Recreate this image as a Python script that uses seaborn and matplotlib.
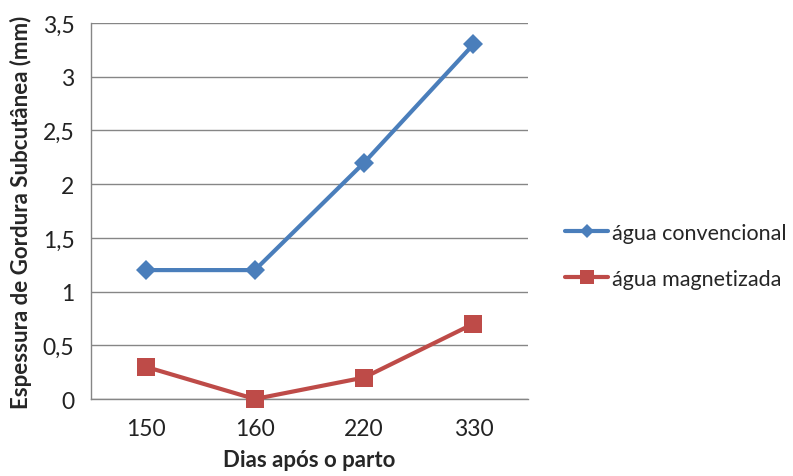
import matplotlib
matplotlib.use("Agg")
import matplotlib.pyplot as plt
import seaborn as sns
import pandas as pd
from matplotlib.lines import Line2D

dias = ["150", "160", "220", "330"]
convencional = [1.2, 1.2, 2.2, 3.3]
magnetizada = [0.3, 0.0, 0.2, 0.7]
series_names = ["água convencional", "água magnetizada"]
y_ticks = [0, 0.5, 1, 1.5, 2, 2.5, 3, 3.5]
y_tick_labels = ["0", "0,5", "1", "1,5", "2", "2,5", "3", "3,5"]

df = pd.DataFrame({
    "dia": dias * 2,
    "valor": convencional + magnetizada,
    "serie": [series_names[0]] * len(dias) + [series_names[1]] * len(dias),
})

sns.set_style("white")
plt.rcParams["font.family"] = ["Lato", "DejaVu Sans"]

fig = plt.figure(figsize=(7.93, 4.77), dpi=100)
ax = fig.add_axes([0.1148, 0.1614, 0.551, 0.7883])

palette = {series_names[0]: "#4A7EBB", series_names[1]: "#BE4B48"}
markers = {series_names[0]: "D", series_names[1]: "s"}
sizes = {series_names[0]: 10, series_names[1]: 13}

sns.lineplot(data=df, x="dia", y="valor", hue="serie", style="serie",
             palette=palette, markers=markers, dashes=False,
             linewidth=3, markersize=10, markeredgewidth=0,
             ax=ax, legend=False)
for line, name in zip(ax.get_lines(), series_names):
    line.set_markersize(sizes[name])
    line.set_clip_on(False)
    line.set_zorder(5)

ax.set_xlim(-0.5, len(dias) - 0.5)
ax.set_ylim(0, 3.5)
ax.set_yticks(y_ticks)
ax.set_yticklabels(y_tick_labels)
ax.yaxis.grid(True, color="#868686", linewidth=1)
ax.set_axisbelow(True)

for side in ["top", "right"]:
    ax.spines[side].set_visible(False)
for side in ["left", "bottom"]:
    ax.spines[side].set_color("#868686")
    ax.spines[side].set_linewidth(1)

ax.tick_params(axis="y", length=8, width=1, color="#868686", direction="out",
               labelsize=16.5, pad=4, labelcolor="#222222")
ax.tick_params(axis="x", length=0, labelsize=16.5, pad=14, labelcolor="#222222")

ax.set_xlabel("Dias após o parto", fontsize=16, fontweight="bold", labelpad=7)
ax.set_ylabel("Espessura de Gordura Subcutânea (mm)", fontsize=16,
              fontweight="bold", labelpad=8)

handles = [Line2D([], [], color=palette[n], marker=markers[n], linewidth=3,
                  markersize=sizes[n] - 3, markeredgewidth=0) for n in series_names]
fig.legend(handles, series_names, loc="center left",
           bbox_to_anchor=(0.7125, 0.462), frameon=False, fontsize=15.5,
           borderaxespad=0, borderpad=0,
           handlelength=2.0, handletextpad=0.2, labelspacing=1.2)

fig.savefig("out.png", dpi=100)
